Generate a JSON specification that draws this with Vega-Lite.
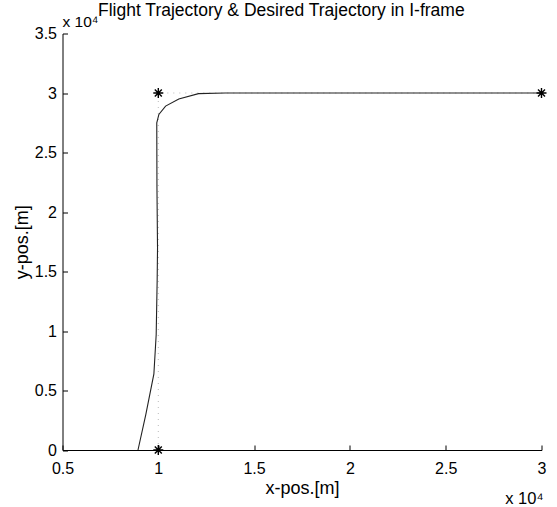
{
  "$schema": "https://vega.github.io/schema/vega-lite/v6.json",
  "autosize": "none",
  "width": 479,
  "height": 416.5,
  "padding": {"left": 62.5, "top": 33.5, "right": 15.5, "bottom": 57},
  "background": "white",
  "config": {
    "view": {"stroke": null},
    "font": "Liberation Sans",
    "axis": {"grid": false, "domainColor": "black", "tickColor": "black", "labelColor": "black", "titleColor": "black", "labelFont": "Liberation Sans", "titleFont": "Liberation Sans", "labelFontSize": 16, "titleFontSize": 18, "titleFontWeight": "normal", "domainWidth": 1, "tickWidth": 1}
  },
  "title": {"text": "Flight Trajectory & Desired Trajectory in I-frame", "anchor": "start", "frame": "group", "dx": 35.5, "offset": -18, "baseline": "alphabetic", "fontSize": 17.5, "fontWeight": "normal", "font": "Liberation Sans", "color": "black"},
  "datasets": {
    "flight": [
      {"i": 0, "x": 8940, "y": 0},
      {"i": 1, "x": 9350, "y": 3000},
      {"i": 2, "x": 9770, "y": 6400},
      {"i": 3, "x": 9890, "y": 9700},
      {"i": 4, "x": 9940, "y": 14200},
      {"i": 5, "x": 9960, "y": 17000},
      {"i": 6, "x": 9930, "y": 22000},
      {"i": 7, "x": 9920, "y": 27500},
      {"i": 8, "x": 10030, "y": 28200},
      {"i": 9, "x": 10380, "y": 28900},
      {"i": 10, "x": 11070, "y": 29500},
      {"i": 11, "x": 12100, "y": 29950},
      {"i": 12, "x": 13500, "y": 30000},
      {"i": 13, "x": 30000, "y": 30000}
    ],
    "desired": [
      {"i": 0, "x": 10000, "y": 0},
      {"i": 1, "x": 10000, "y": 30000},
      {"i": 2, "x": 30000, "y": 30000}
    ]
  },
  "layer": [
    {
      "data": {"name": "desired"},
      "mark": {"type": "line", "color": "#bbbbbb", "strokeWidth": 1, "strokeDash": [1, 5]},
      "encoding": {
        "x": {"field": "x", "type": "quantitative", "scale": {"domain": [5000, 30000], "nice": false, "zero": false},
          "axis": {"title": "x-pos.[m]", "values": [5000, 10000, 15000, 20000, 25000, 30000], "labelExpr": "datum.value/10000 + ''", "tickSize": -5, "labelPadding": 15.5, "titlePadding": 3, "labelFlush": false}},
        "y": {"field": "y", "type": "quantitative", "scale": {"domain": [0, 35000], "nice": false, "zero": false},
          "axis": {"title": "y-pos.[m]", "values": [0, 5000, 10000, 15000, 20000, 25000, 30000, 35000], "labelExpr": "datum.value/10000 + ''", "tickSize": -5, "labelPadding": 11, "titlePadding": 3, "labelFlush": false}},
        "order": {"field": "i", "type": "quantitative"}
      }
    },
    {
      "data": {"name": "flight"},
      "mark": {"type": "line", "color": "#222222", "strokeWidth": 1.1},
      "encoding": {
        "x": {"field": "x", "type": "quantitative"},
        "y": {"field": "y", "type": "quantitative"},
        "order": {"field": "i", "type": "quantitative"}
      }
    },
    {
      "data": {"name": "desired"},
      "mark": {"type": "point", "shape": "M-1,0L1,0M0,-1L0,1M-0.7,-0.7L0.7,0.7M-0.7,0.7L0.7,-0.7", "filled": false, "stroke": "black", "strokeWidth": 1.4, "size": 100, "opacity": 1},
      "encoding": {
        "x": {"field": "x", "type": "quantitative"},
        "y": {"field": "y", "type": "quantitative"}
      }
    },
    {
      "data": {"values": [{}]},
      "mark": {"type": "text", "text": "x 10⁴", "align": "left", "baseline": "alphabetic", "dy": -6.5, "fontSize": 15.5, "font": "Liberation Sans", "color": "black"},
      "encoding": {
        "x": {"datum": 5000, "type": "quantitative"},
        "y": {"datum": 35000, "type": "quantitative"}
      }
    },
    {
      "data": {"values": [{}]},
      "mark": {"type": "text", "text": "x 10⁴", "align": "right", "baseline": "alphabetic", "dy": 54, "dx": 2, "fontSize": 16.5, "font": "Liberation Sans", "color": "black"},
      "encoding": {
        "x": {"datum": 30000, "type": "quantitative"},
        "y": {"datum": 0, "type": "quantitative"}
      }
    }
  ]
}
